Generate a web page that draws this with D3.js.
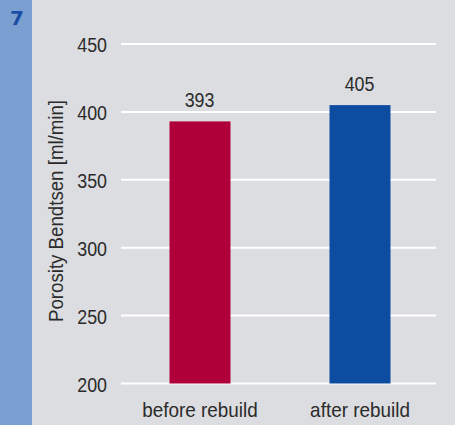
<!DOCTYPE html>
<html><head><meta charset="utf-8">
<script src="https://cdn.jsdelivr.net/npm/d3@7"></script>
<style>
html,body{margin:0;padding:0;background:#dcdde0;}
text{font-family:"Liberation Sans",Arial,sans-serif;fill:#2b2b2b;}
</style></head><body>
<svg id="c" width="455" height="425"></svg>
<script>
const categories = ["before rebuild", "after rebuild"];
const values = [393, 405];
const colors = ["#b0003a", "#0c4da2"];
const yTicks = [200, 250, 300, 350, 400, 450];
const yTitle = "Porosity Bendtsen [ml/min]";
const panelNumber = "7";

const svg = d3.select("#c");
svg.append("rect").attr("width",455).attr("height",425).attr("fill","#dcdde0");
svg.append("rect").attr("x",0).attr("y",0).attr("width",32).attr("height",425).attr("fill","#7a9fd0");
svg.append("text").attr("x",17).attr("y",25).attr("text-anchor","middle")
  .style("font-family","'DejaVu Sans',sans-serif").style("font-weight","bold").style("font-size","20px")
  .style("fill","#1a4ea6").text(panelNumber);

const y = d3.scaleLinear().domain([200,450]).range([383.5,44]);
const x = d3.scaleBand().domain(categories).range([120,440]);

const grid = svg.append("g");
grid.selectAll("line").data(yTicks).join("line")
  .attr("x1",121).attr("x2",436).attr("y1",d=>y(d)).attr("y2",d=>y(d))
  .attr("stroke","#ffffff").attr("stroke-width",2);

const yAxis = d3.axisLeft(y).tickValues(yTicks).tickSize(0).tickPadding(0);
const ga = svg.append("g").attr("transform","translate(107,0)").call(yAxis);
ga.select(".domain").remove();
ga.selectAll("text").style("font-size","21px").style("font-family","'Liberation Sans',sans-serif")
  .attr("fill","#2b2b2b").attr("dy","0.36em").attr("transform","scale(0.85,1)");

const bw = 61;
svg.selectAll("rect.bar").data(values).join("rect").attr("class","bar")
  .attr("x",(d,i)=>x(categories[i])+x.bandwidth()/2-bw/2)
  .attr("width",bw)
  .attr("y",d=>y(d)).attr("height",d=>y(200)-y(d))
  .attr("fill",(d,i)=>colors[i]);

svg.selectAll("g.val").data(values).join("g").attr("class","val")
  .attr("transform",(d,i)=>`translate(${x(categories[i])+x.bandwidth()/2-0.5},${y(d)-14})`)
  .append("text").attr("text-anchor","middle").attr("transform","scale(0.85,1)")
  .style("font-size","21px").text(d=>d);

const xAxis = d3.axisBottom(x).tickSize(0).tickPadding(0);
const gx = svg.append("g").attr("transform","translate(0,417)").call(xAxis);
gx.select(".domain").remove();
gx.selectAll("text").style("font-size","21px").style("font-family","'Liberation Sans',sans-serif")
  .attr("fill","#2b2b2b").attr("y",0).attr("dy","0").attr("transform","scale(0.9,1)");

svg.append("g").attr("transform","translate(63,211) rotate(-90)")
  .append("text").attr("text-anchor","middle").attr("transform","scale(0.89,1)")
  .style("font-size","21px").text(yTitle);
</script>
</body></html>
